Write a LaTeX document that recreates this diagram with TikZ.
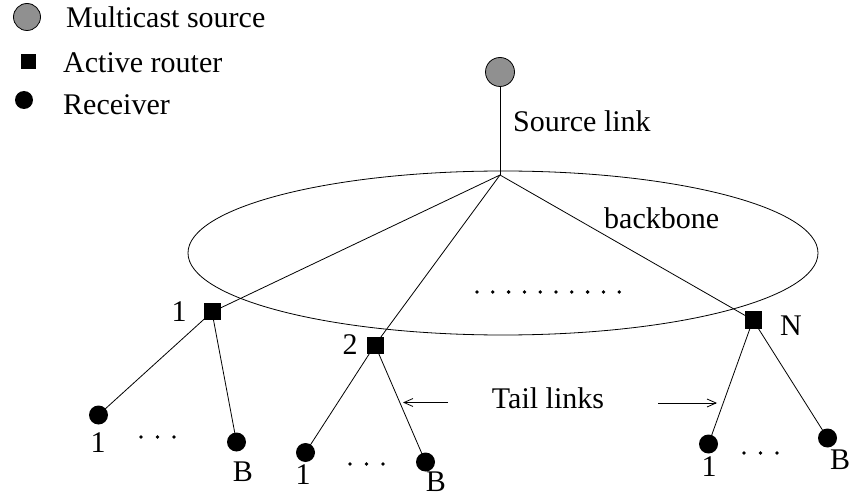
\documentclass[tikz,border=0pt]{standalone}
\usepackage{fontspec}
\setmainfont{Liberation Serif}
\usetikzlibrary{arrows.meta}
\definecolor{srcgray}{RGB}{144,144,144}
\begin{document}
\begin{tikzpicture}[x=1pt,y=-1pt,
  lbl/.style={font=\fontsize{30}{36}\selectfont, inner sep=0pt},
  srcnode/.style={circle, draw=black, line width=0.8pt, fill=srcgray, minimum size=29pt, inner sep=0pt},
  router/.style={rectangle, fill=black, minimum size=17pt, inner sep=0pt},
  recv/.style={circle, fill=black, minimum size=19pt, inner sep=0pt},
  link/.style={line width=0.8pt},
  tailarrow/.style={line width=0.8pt, -{Straight Barb[length=9pt,width=8pt]}},
  dotc/.style={circle, fill=black, minimum size=3.8pt, inner sep=0pt}]
\useasboundingbox (0,0) rectangle (852,497);

% legend
\node[srcnode, minimum size=27pt] (lgsrc) at (27,17) {};
\node[router, minimum size=15pt] (lgrt) at (28,62) {};
\node[recv, minimum size=18pt] (lgrc) at (24,100) {};
\node[lbl, anchor=base west] (lgt1) at (66,28) {Multicast source};
\node[lbl, anchor=base west] (lgt2) at (63,73) {Active router};
\node[lbl, anchor=base west] (lgt3) at (63,115) {Receiver};

% backbone ellipse
\draw[link] (503,253) ellipse [x radius=315, y radius=82];
\node[lbl, anchor=base west] (bb) at (604,229) {backbone};

% source
\coordinate (hub) at (500,175);
\node[srcnode] (src) at (500,72) {};
\node[lbl, anchor=base west] (srclink) at (513,132) {Source link};

% routers
\coordinate (r1c) at (212,312);
\coordinate (r2c) at (375,345);
\coordinate (rNc) at (753,320);

% receivers positions
\coordinate (a1c) at (98.5,415);
\coordinate (aBc) at (236.5,442);
\coordinate (b1c) at (305.5,452.5);
\coordinate (bBc) at (425.5,462);
\coordinate (c1c) at (708.5,444);
\coordinate (cBc) at (827.5,438);

% links
\draw[link] (src) -- (hub);
\draw[link] (hub) -- (r1c);
\draw[link] (hub) -- (r2c);
\draw[link] (hub) -- (rNc);
\draw[link] (r1c) -- (a1c);
\draw[link] (r1c) -- (aBc);
\draw[link] (r2c) -- (b1c);
\draw[link] (r2c) -- (bBc);
\draw[link] (rNc) -- (c1c);
\draw[link] (rNc) -- (cBc);

\node[router] (r1) at (r1c) {};
\node[router] (r2) at (r2c) {};
\node[router] (rN) at (rNc) {};
\node[recv] (a1) at (a1c) {};
\node[recv] (aB) at (aBc) {};
\node[recv] (b1) at (b1c) {};
\node[recv] (bB) at (bBc) {};
\node[recv] (c1) at (c1c) {};
\node[recv] (cB) at (cBc) {};

% router labels
\node[lbl] (l1) at (179,312) {1};
\node[lbl] (l2) at (350,345) {2};
\node[lbl] (lN) at (791,326) {N};

% receiver labels
\node[lbl] (la1) at (98,443) {1};
\node[lbl] (laB) at (243,472) {B};
\node[lbl] (lb1) at (303,475) {1};
\node[lbl] (lbB) at (436,482) {B};
\node[lbl] (lc1) at (709,467) {1};
\node[lbl] (lcB) at (840,460) {B};

% dots
\foreach \i in {0,...,9} {
  \node[dotc] (bd\i) at ({477+15.8*\i},292) {};
}
\foreach \i in {0,1,2} {
  \node[dotc] (ad\i) at ({141+16.5*\i},437) {};
  \node[dotc] (bdd\i) at ({350+16.5*\i},464) {};
  \node[dotc] (cd\i) at ({744+16.5*\i},453) {};
}

% tail links
\node[lbl] (tail) at (548,398) {Tail links};
\coordinate (tlA) at (448,402.5);
\coordinate (tlAe) at (403,402.5);
\coordinate (tlB) at (658,403);
\coordinate (tlBe) at (717,403);
\draw[tailarrow] (tlA) -- (tlAe);
\draw[tailarrow] (tlB) -- (tlBe);
\end{tikzpicture}
\end{document}
